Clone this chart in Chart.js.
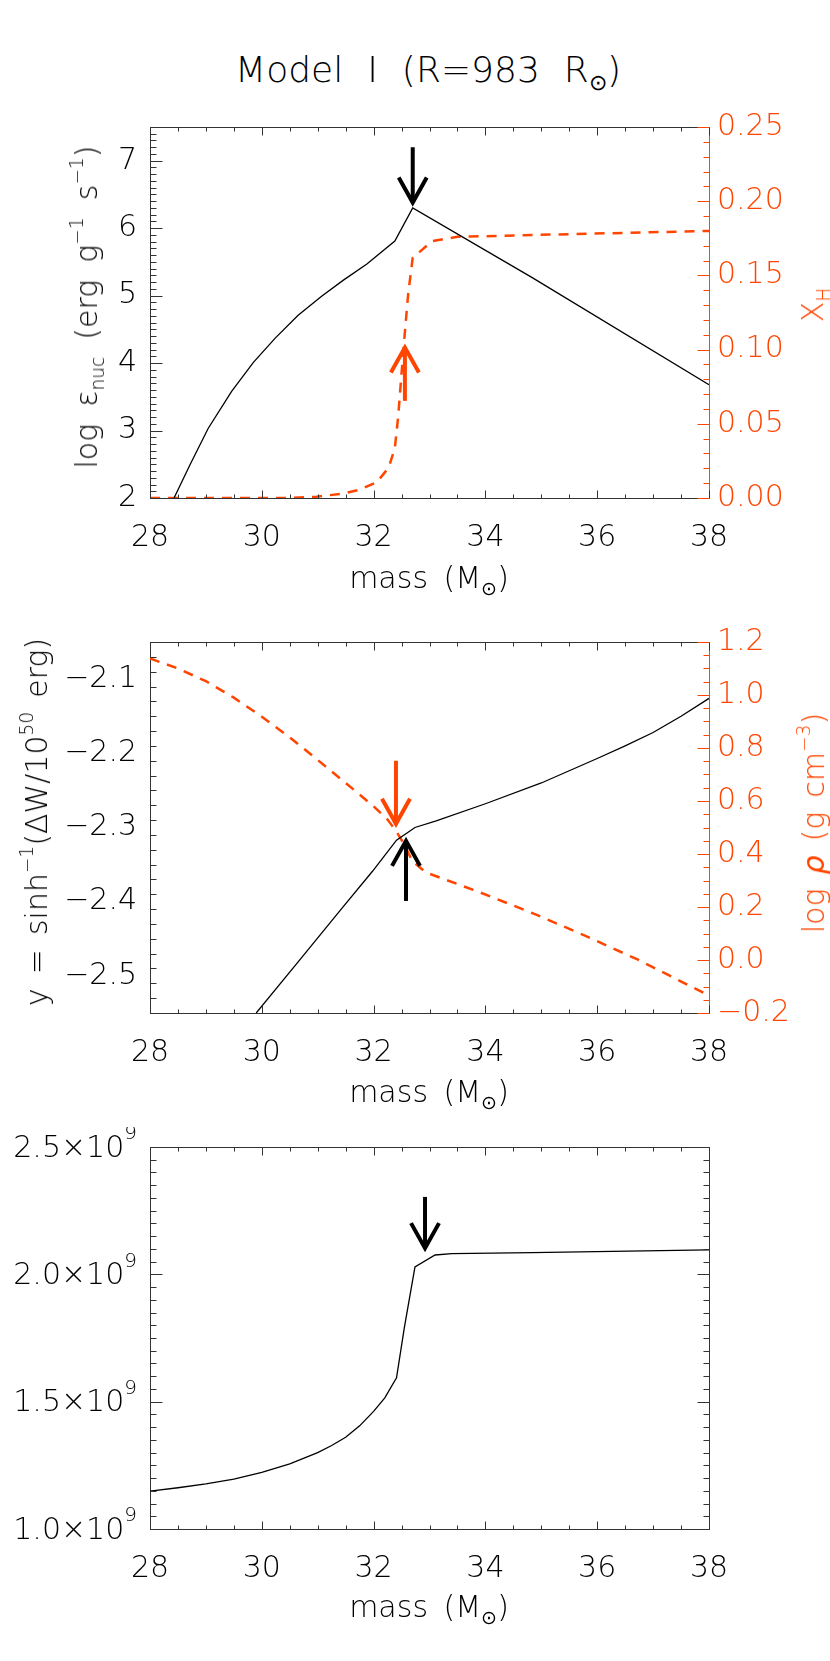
<!DOCTYPE html>
<html>
<head>
<meta charset="utf-8">
<script src="https://cdn.jsdelivr.net/npm/chart.js@4.4.1/dist/chart.umd.min.js"></script>
<style>
  html, body { margin:0; padding:0; background:#fff; }
  body { width:830px; height:1661px; position:relative; overflow:hidden;
         font-family:"DejaVu Sans", sans-serif; font-weight:200; }
  canvas { position:absolute; left:0; }
  .lbl { position:absolute; white-space:nowrap; line-height:1; color:#000;
         transform:translate(-50%,-50%); font-size:30px; }
  .rot { transform:translate(-50%,-50%) rotate(-90deg); }
  .sp { font-size:62%; position:relative; top:-0.75em; }
  .sb { font-size:62%; position:relative; top:0.35em; }
  .orange { color:#FF4500; }
</style>
</head>
<body>
<canvas id="c1" width="830" height="482" style="top:96px"></canvas>
<canvas id="c2" width="830" height="482" style="top:611px"></canvas>
<canvas id="c3" width="830" height="482" style="top:1127px"></canvas>

<div class="lbl" style="left:428px;top:70px;font-size:36px;word-spacing:0.35em">Model I (R=983 R<span class="sb">⊙</span>)</div>

<div class="lbl rot" style="left:87px;top:307px;word-spacing:0.25em">log ε<span class="sb">nuc</span> (erg g<span class="sp">−1</span> s<span class="sp">−1</span>)</div>
<div class="lbl rot orange" style="left:813px;top:305px">X<span class="sb">H</span></div>
<div class="lbl" style="left:429px;top:578px;word-spacing:0.2em">mass (M<span class="sb">⊙</span>)</div>

<div class="lbl rot" style="left:37px;top:822px;word-spacing:0.15em">y = sinh<span class="sp">−1</span>(ΔW/10<span class="sp">50</span> erg)</div>
<div class="lbl rot orange" style="left:814px;top:823px;word-spacing:0.15em">log <span style="font-style:italic;font-weight:400">ρ</span> (g cm<span class="sp">−3</span>)</div>
<div class="lbl" style="left:429px;top:1092px;word-spacing:0.2em">mass (M<span class="sb">⊙</span>)</div>

<div class="lbl" style="left:429px;top:1607px;word-spacing:0.2em">mass (M<span class="sb">⊙</span>)</div>

<script>
// ---------------- data ----------------
const xTicks = [28, 30, 32, 34, 36, 38];
const xTickLabels = ['28', '30', '32', '34', '36', '38'];

// Panel 1: log eps_nuc (left) and X_H (right)
const p1EpsMass = [28.43, 28.72, 29.04, 29.46, 29.85, 30.24, 30.65, 31.07, 31.46, 31.88, 32.38, 32.70, 34.83, 38.00];
const p1Eps     = [2.00, 2.50, 3.03, 3.58, 4.01, 4.37, 4.71, 4.99, 5.23, 5.47, 5.81, 6.30, 5.27, 3.68];
const p1XhMass  = [28.00, 30.50, 30.98, 31.46, 31.76, 32.06, 32.27, 32.38, 32.44, 32.50, 32.56, 32.62, 32.70, 32.83, 33.04, 33.50, 38.00];
const p1Xh      = [0.000, 0.000, 0.0009, 0.003, 0.0057, 0.0107, 0.0205, 0.0336, 0.055, 0.084, 0.112, 0.138, 0.162, 0.166, 0.173, 0.176, 0.180];
const p1LeftTicks   = [2, 3, 4, 5, 6, 7];
const p1LeftLabels  = ['2', '3', '4', '5', '6', '7'];
const p1RightTicks  = [0, 0.05, 0.10, 0.15, 0.20, 0.25];
const p1RightLabels = ['0.00', '0.05', '0.10', '0.15', '0.20', '0.25'];
const p1ArrowMass = [32.70, 32.56];
const p1ArrowFrom = [7.20, 3.44];
const p1ArrowTo   = [6.38, 4.23];

// Panel 2: y = asinh(dW/1e50 erg) (left) and log rho (right)
const p2YMass   = [29.90, 30.65, 31.41, 31.98, 32.41, 32.74, 33.12, 34.00, 35.00, 36.00, 36.50, 37.00, 37.50, 38.00];
const p2Y       = [-2.550, -2.481, -2.411, -2.359, -2.317, -2.300, -2.291, -2.268, -2.240, -2.207, -2.190, -2.172, -2.150, -2.126];
const p2RhoMass = [28.00, 28.50, 29.00, 29.50, 30.00, 30.50, 31.00, 31.50, 32.00, 32.25, 32.41, 32.55, 32.69, 32.93, 33.88, 34.83, 35.78, 36.73, 38.00];
const p2Rho     = [1.138, 1.100, 1.052, 0.990, 0.918, 0.840, 0.755, 0.668, 0.580, 0.530, 0.484, 0.435, 0.374, 0.331, 0.257, 0.178, 0.092, 0.001, -0.134];
const p2LeftTicks   = [-2.5, -2.4, -2.3, -2.2, -2.1];
const p2LeftLabels  = ['−2.5', '−2.4', '−2.3', '−2.2', '−2.1'];
const p2RightTicks  = [-0.2, 0.0, 0.2, 0.4, 0.6, 0.8, 1.0, 1.2];
const p2RightLabels = ['−0.2', '0.0', '0.2', '0.4', '0.6', '0.8', '1.0', '1.2'];
const p2ArrowMass = [32.40, 32.58];
const p2ArrowFrom = [-2.210, -2.399];
const p2ArrowTo   = [-2.295, -2.318];

// Panel 3
const p3Mass = [28.00, 28.50, 29.00, 29.50, 30.00, 30.50, 31.00, 31.25, 31.50, 31.75, 32.00, 32.20, 32.41, 32.55, 32.74, 33.10, 33.40, 34.83, 38.00];
const p3Val  = [1.149e9, 1.162e9, 1.177e9, 1.196e9, 1.222e9, 1.256e9, 1.300e9, 1.328e9, 1.360e9, 1.405e9, 1.462e9, 1.515e9, 1.594e9, 1.791e9, 2.029e9, 2.076e9, 2.081e9, 2.085e9, 2.096e9];
const p3LeftTicks  = [1.0e9, 1.5e9, 2.0e9, 2.5e9];
const p3LeftLabels = ['1.0×10', '1.5×10', '2.0×10', '2.5×10'];
const p3LeftExp    = ['9', '9', '9', '9'];
const p3ArrowMass = [32.92];
const p3ArrowFrom = [2.304e9];
const p3ArrowTo   = [2.103e9];

// ---------------- styling ----------------
const ORANGE = '#FF4500';
const AXIS = '#333';
const FONT = '"DejaVu Sans", sans-serif';
Chart.defaults.font.family = FONT;
Chart.defaults.font.weight = 200;

const pts = (xs, ys) => xs.map((x, i) => ({ x, y: ys[i] }));

const framePlugin = {
  id: 'frame',
  afterDatasetsDraw(chart, args, o) {
    const { ctx, chartArea: a, scales } = chart;
    const r = v => Math.round(v) + 0.5;
    ctx.save();
    ctx.lineWidth = 1;
    const seg = (x1, y1, x2, y2, c) => {
      ctx.strokeStyle = c; ctx.beginPath(); ctx.moveTo(x1, y1); ctx.lineTo(x2, y2); ctx.stroke();
    };
    const L = r(a.left), R = r(a.right), T = r(a.top), B = r(a.bottom);
    seg(L, T, R, T, AXIS);
    seg(R, T, R, B, o.rightColor);
    const xs = scales.x;
    for (let v = xs.min; v <= xs.max + 1e-9; v += o.xMinor) {
      const major = xTicks.some(t => Math.abs(t - v) < 1e-6);
      const len = major ? 8 : 4;
      const px = r(xs.getPixelForValue(v));
      seg(px, B, px, B - len, AXIS);
      seg(px, T, px, T + len, AXIS);
    }
    const yTicks = (sc, majors, minor, side, color) => {
      for (let v = sc.min; v <= sc.max + minor * 1e-3; v += minor) {
        const major = majors.some(t => Math.abs(t - v) < minor * 1e-3);
        const len = major ? 12 : 6;
        const py = r(sc.getPixelForValue(v));
        if (side === 'left') seg(L, py, L + len, py, color);
        else seg(R, py, R - len, py, color);
      }
    };
    yTicks(scales.y, o.yMajors, o.yMinor, 'left', AXIS);
    if (scales.y2) yTicks(scales.y2, o.y2Majors, o.y2Minor, 'right', ORANGE);
    else yTicks(scales.y, o.yMajors, o.yMinor, 'right', AXIS);
    // scientific tick labels with superscript exponent
    if (o.sci) {
      ctx.fillStyle = '#000';
      ctx.textBaseline = 'middle';
      o.sci.values.forEach((v, i) => {
        const py = scales.y.getPixelForValue(v);
        const right = a.left - 13;
        ctx.font = `200 20px ${FONT}`;
        ctx.textAlign = 'right';
        const ew = ctx.measureText(o.sci.exp[i]).width;
        ctx.fillText(o.sci.exp[i], right, py - 13);
        ctx.font = `200 30px ${FONT}`;
        ctx.fillText(o.sci.base[i], right - ew, py + 2);
      });
    }
    // arrows
    ctx.lineWidth = 4;
    ctx.lineJoin = 'miter';
    ctx.lineCap = 'butt';
    o.arrows.mass.forEach((m, i) => {
      const px = xs.getPixelForValue(m);
      const y0 = scales.y.getPixelForValue(o.arrows.from[i]);
      const y1 = scales.y.getPixelForValue(o.arrows.to[i]);
      const dir = y1 > y0 ? 1 : -1;
      ctx.strokeStyle = o.arrows.color[i];
      ctx.beginPath();
      ctx.moveTo(px, y0); ctx.lineTo(px, y1); ctx.stroke();
      ctx.beginPath();
      ctx.moveTo(px - 14, y1 - dir * 25); ctx.lineTo(px, y1); ctx.lineTo(px + 14, y1 - dir * 25);
      ctx.stroke();
    });
    ctx.restore();
  }
};

function axisX() {
  return {
    type: 'linear', position: 'bottom', min: 28, max: 38,
    grid: { display: false, drawTicks: false, tickLength: 0 },
    border: { display: true, color: AXIS, width: 1 },
    ticks: { font: { size: 30, weight: 200, family: FONT }, color: '#000', padding: 22,
             autoSkip: false, maxRotation: 0, callback: (v, i) => xTickLabels[i] },
    afterBuildTicks: s => { s.ticks = xTicks.map(v => ({ value: v })); },
    afterFit: s => { s.height = 80; }
  };
}
function axisY(min, max, ticks, labels, pos, color, width, showLabels = true) {
  return {
    type: 'linear', position: pos, min, max,
    grid: { display: false, drawTicks: false, tickLength: 0 },
    border: { display: true, color: color === '#000' ? AXIS : color, width: 1 },
    ticks: { display: showLabels, font: { size: 30, weight: 200, family: FONT }, color, padding: pos === 'left' ? 13 : 8,
             autoSkip: false, callback: (v, i) => labels[i] },
    afterBuildTicks: s => { s.ticks = ticks.map(v => ({ value: v })); },
    afterFit: s => { s.width = width; }
  };
}
function baseOptions(scales, frame, padRight) {
  return {
    responsive: false, animation: false, events: [],
    layout: { padding: { top: 20, left: 0, right: padRight, bottom: 0 } },
    plugins: { legend: { display: false }, tooltip: { enabled: false }, frame },
    scales
  };
}

new Chart(document.getElementById('c1'), {
  type: 'line',
  data: { datasets: [
    { data: pts(p1EpsMass, p1Eps), yAxisID: 'y', borderColor: '#000', borderWidth: 1.3, pointRadius: 0, tension: 0 },
    { data: pts(p1XhMass, p1Xh), yAxisID: 'y2', borderColor: ORANGE, borderWidth: 2.5, borderDash: [10, 8], pointRadius: 0, tension: 0 }
  ]},
  options: baseOptions({
    x: axisX(),
    y: axisY(2, 7.5, p1LeftTicks, p1LeftLabels, 'left', '#000', 150),
    y2: axisY(0, 0.25, p1RightTicks, p1RightLabels, 'right', ORANGE, 121)
  }, { xMinor: 0.5, yMajors: p1LeftTicks, yMinor: 0.1, y2Majors: p1RightTicks, y2Minor: 0.01, rightColor: ORANGE,
       arrows: { mass: p1ArrowMass, from: p1ArrowFrom, to: p1ArrowTo, color: ['#000', ORANGE] } }, 0),
  plugins: [framePlugin]
});

new Chart(document.getElementById('c2'), {
  type: 'line',
  data: { datasets: [
    { data: pts(p2YMass, p2Y), yAxisID: 'y', borderColor: '#000', borderWidth: 1.3, pointRadius: 0, tension: 0 },
    { data: pts(p2RhoMass, p2Rho), yAxisID: 'y2', borderColor: ORANGE, borderWidth: 2.5, borderDash: [10, 8], pointRadius: 0, tension: 0 }
  ]},
  options: baseOptions({
    x: axisX(),
    y: axisY(-2.55, -2.05, p2LeftTicks, p2LeftLabels, 'left', '#000', 150),
    y2: axisY(-0.2, 1.2, p2RightTicks, p2RightLabels, 'right', ORANGE, 121)
  }, { xMinor: 0.5, yMajors: p2LeftTicks, yMinor: 0.02, y2Majors: p2RightTicks, y2Minor: 0.05, rightColor: ORANGE,
       arrows: { mass: p2ArrowMass, from: p2ArrowFrom, to: p2ArrowTo, color: [ORANGE, '#000'] } }, 0),
  plugins: [framePlugin]
});

new Chart(document.getElementById('c3'), {
  type: 'line',
  data: { datasets: [
    { data: pts(p3Mass, p3Val), yAxisID: 'y', borderColor: '#000', borderWidth: 1.3, pointRadius: 0, tension: 0 }
  ]},
  options: baseOptions({
    x: axisX(),
    y: axisY(1.0e9, 2.5e9, p3LeftTicks, p3LeftLabels, 'left', '#000', 150, false)
  }, { xMinor: 0.5, yMajors: p3LeftTicks, yMinor: 0.05e9, rightColor: AXIS,
       sci: { values: p3LeftTicks, base: p3LeftLabels, exp: p3LeftExp },
       arrows: { mass: p3ArrowMass, from: p3ArrowFrom, to: p3ArrowTo, color: ['#000'] } }, 121),
  plugins: [framePlugin]
});
</script>
</body>
</html>
